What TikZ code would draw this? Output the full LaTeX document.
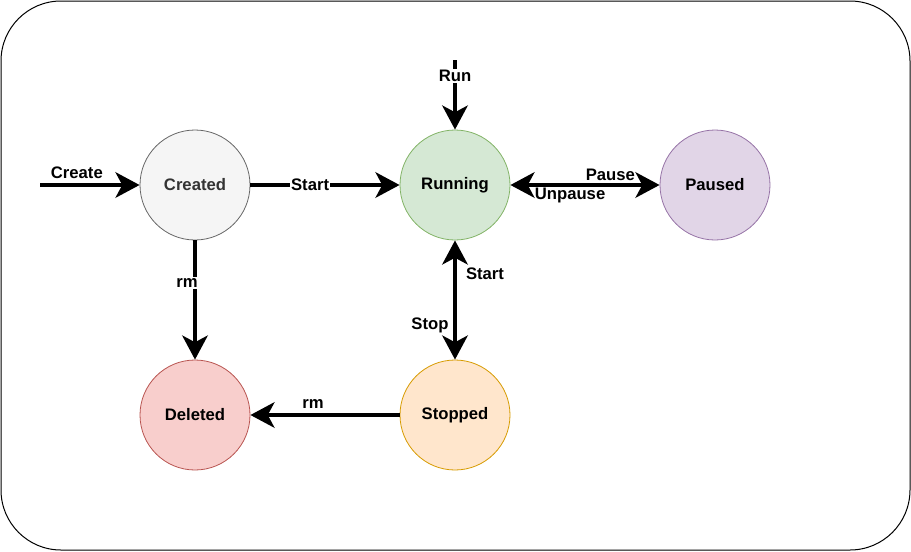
\documentclass[tikz,border=0pt]{standalone}
\usepackage{fontspec}
\setmainfont{Liberation Sans}
\usetikzlibrary{arrows.meta}
\definecolor{crF}{HTML}{F5F5F5}\definecolor{crD}{HTML}{666666}\definecolor{crT}{HTML}{333333}
\definecolor{ruF}{HTML}{D5E8D4}\definecolor{ruD}{HTML}{82B366}
\definecolor{paF}{HTML}{E1D5E7}\definecolor{paD}{HTML}{9673A6}
\definecolor{deF}{HTML}{F8CECC}\definecolor{deD}{HTML}{B85450}
\definecolor{stF}{HTML}{FFE6CC}\definecolor{stD}{HTML}{D79B00}
\tikzset{
  state/.style={circle, minimum size=82.5pt, inner sep=0pt, line width=0.6pt, font=\bfseries\fontsize{12.5}{14}\selectfont},
  flow/.style={line width=3.6pt, -{Stealth[length=18pt, width=19pt, inset=5pt]}},
  bflow/.style={line width=3.6pt, {Stealth[length=18pt, width=19pt, inset=5pt]}-{Stealth[length=18pt, width=19pt, inset=5pt]}},
  lbl/.style={font=\bfseries\fontsize{12.5}{14}\selectfont, inner sep=1pt},
  wlbl/.style={lbl, fill=white}
}
\begin{document}
\begin{tikzpicture}[x=0.75pt, y=-0.75pt]
\useasboundingbox (0,0) rectangle (911,551);
\draw[line width=0.75pt, rounded corners=45pt] (1,1) rectangle (910,550);
\node[state, fill=crF, draw=crD, text=crT] (created) at (195,185) {Created};
\node[state, fill=ruF, draw=ruD] (running) at (455,185) {Running};
\node[state, fill=paF, draw=paD] (paused) at (715,185) {Paused};
\node[state, fill=deF, draw=deD] (deleted) at (195,415) {Deleted};
\node[state, fill=stF, draw=stD] (stopped) at (455,415) {Stopped};
\coordinate (cstart) at (40,185);
\coordinate (rstart) at (455,60);
\draw[flow] (cstart) -- node[lbl, pos=0.37, yshift=9pt] {Create} (created);
\draw[flow] (rstart) -- node[wlbl, pos=0.23] {Run} (running);
\draw[flow] (created) -- node[wlbl, pos=0.4] {Start} (running);
\draw[bflow] (running) -- node[lbl, pos=0.67, yshift=7.5pt] {Pause} node[lbl, pos=0.4, yshift=-7.5pt] {Unpause} (paused);
\draw[bflow] (running) -- node[lbl, pos=0.28, xshift=22.5pt] {Start} node[lbl, pos=0.71, xshift=-18.75pt] {Stop} (stopped);
\draw[flow] (created) -- node[wlbl, pos=0.36, xshift=-6pt] {rm} (deleted);
\draw[flow] (stopped) -- node[wlbl, pos=0.58, yshift=8.25pt] {rm} (deleted);
\end{tikzpicture}
\end{document}
